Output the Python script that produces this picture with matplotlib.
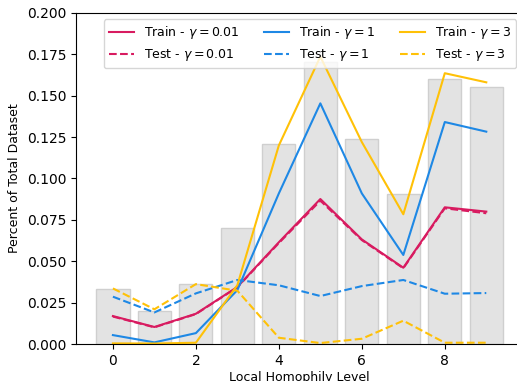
import matplotlib
matplotlib.use("Agg")
import matplotlib.pyplot as plt
import numpy as np

levels = np.arange(10)
dataset_share = [0.0332, 0.0200, 0.0360, 0.0703, 0.1207, 0.1706, 0.1237, 0.0904, 0.1603, 0.1553]

train_001 = [0.0169, 0.0103, 0.0183, 0.0345, 0.0615, 0.0876, 0.0632, 0.0461, 0.0826, 0.0800]
test_001 = [0.0166, 0.0101, 0.0181, 0.0343, 0.0610, 0.0866, 0.0628, 0.0458, 0.0820, 0.0790]
train_1 = [0.0054, 0.0010, 0.0066, 0.0326, 0.0910, 0.1454, 0.0910, 0.0538, 0.1341, 0.1283]
test_1 = [0.0286, 0.0191, 0.0306, 0.0387, 0.0355, 0.0290, 0.0350, 0.0387, 0.0304, 0.0308]
train_3 = [0.0004, 0.0003, 0.0008, 0.0356, 0.1200, 0.1736, 0.1220, 0.0784, 0.1636, 0.1581]
test_3 = [0.0336, 0.0210, 0.0362, 0.0322, 0.0038, 0.0006, 0.0032, 0.0141, 0.0008, 0.0008]

c_red = "#D81B60"
c_blue = "#1E88E5"
c_yellow = "#FFC107"

fig = plt.figure(figsize=(5.17, 3.81), dpi=100)
ax = fig.add_axes([0.147, 0.097, 0.865, 0.869])

ax.bar(levels, dataset_share, width=0.8, color="#e3e3e3", edgecolor="#cfcfcf", linewidth=1)

ax.plot(levels, train_001, color=c_red, label="Train - $\\gamma = 0.01$")
ax.plot(levels, test_001, color=c_red, linestyle="--", label="Test - $\\gamma = 0.01$")
ax.plot(levels, train_1, color=c_blue, label="Train - $\\gamma = 1$")
ax.plot(levels, test_1, color=c_blue, linestyle="--", label="Test - $\\gamma = 1$")
ax.plot(levels, train_3, color=c_yellow, label="Train - $\\gamma = 3$")
ax.plot(levels, test_3, color=c_yellow, linestyle="--", label="Test - $\\gamma = 3$")

ax.set_ylim(0, 0.2)
ax.spines["right"].set_visible(False)
ax.set_xlabel("Local Homophily Level", fontsize=9, labelpad=2)
ax.set_ylabel("Percent of Total Dataset", fontsize=9)
ax.legend(ncol=3, loc="upper center", bbox_to_anchor=(0.523, 1.0), fontsize=9)

fig.savefig("out.png", dpi=100)
